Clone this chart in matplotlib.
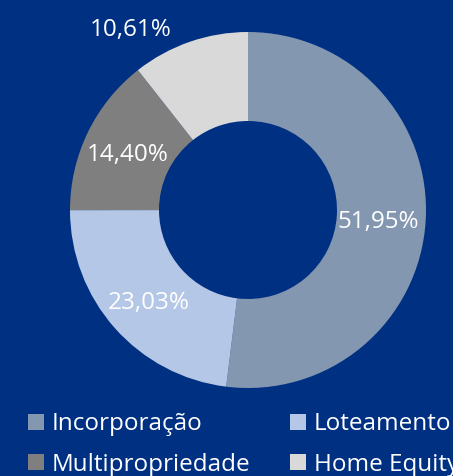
import matplotlib.pyplot as plt

# Data
categories = ['Incorporação', 'Loteamento', 'Multipropriedade', 'Home Equity']
shares = [51.95, 23.03, 14.40, 10.61]
labels = ['51,95%', '23,03%', '14,40%', '10,61%']
colors = ['#8497B0', '#B4C7E7', '#7F7F7F', '#D9D9D9']
bg = '#003082'

plt.rcParams['font.family'] = ['Open Sans', 'DejaVu Sans']

fig = plt.figure(figsize=(4.53, 4.76), dpi=100, facecolor=bg)
ax = fig.add_axes([70 / 453, 88 / 476, 356 / 453, 356 / 476])
ax.set_facecolor(bg)

wedges, _ = ax.pie(shares, colors=colors, startangle=90, counterclock=False,
                   radius=1.0, wedgeprops=dict(width=0.5, edgecolor='none'))
ax.set_xlim(-1, 1)
ax.set_ylim(-1, 1)
ax.set_aspect('equal')

# label positions (data coords, radius 1 = outer ring)
label_pos = [(0.73, -0.07), (-0.56, -0.52), (-0.675, 0.31), (-0.66, 1.01)]
for txt, (x, y) in zip(labels, label_pos):
    ax.text(x, y, txt, color='white', fontsize=17.5, ha='center', va='center',
            clip_on=False)

# legend fills by column, so reorder to get row-wise layout
order = [0, 2, 1, 3]
leg = fig.legend([wedges[i] for i in order], [categories[i] for i in order],
                 loc='upper left', ncol=2,
                 bbox_to_anchor=(16 / 453, 1 - 400 / 476),
                 frameon=False, fontsize=17.5, labelcolor='white',
                 handlelength=0.65, handleheight=0.65, handletextpad=0.3,
                 columnspacing=1.67, labelspacing=0.68, borderpad=0)

fig.savefig('out.png', dpi=100, facecolor=bg)
